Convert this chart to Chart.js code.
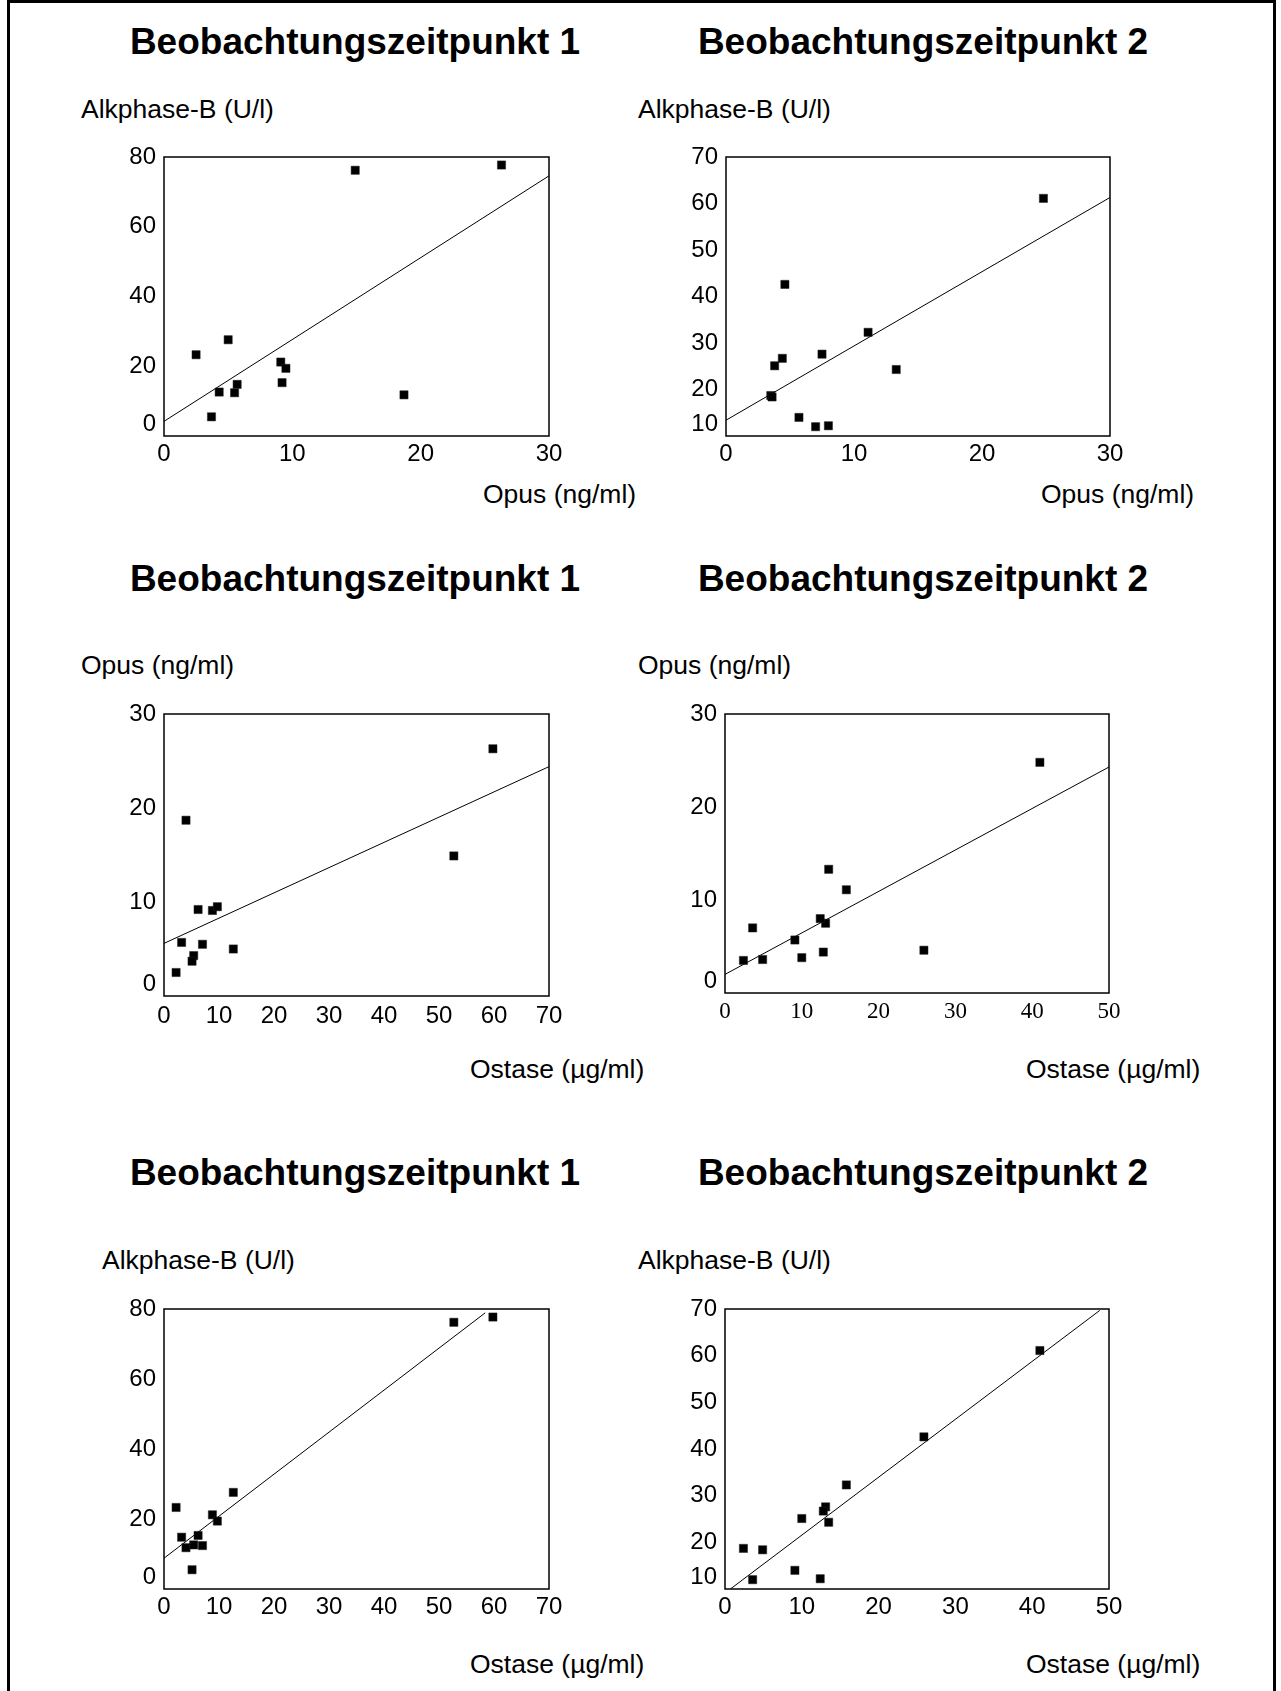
<!DOCTYPE html>
<html>
<head>
<meta charset="utf-8">
<script src="https://cdn.jsdelivr.net/npm/chart.js@4.4.0/dist/chart.umd.min.js"></script>
<style>
  body { margin: 0; background: #fff; font-family: "Liberation Sans", Arial, sans-serif; }
  #page { position: relative; width: 1281px; height: 1691px; overflow: hidden; }
  #frame { position: absolute; left: 7px; top: 0; width: 1263px; height: 1720px; border: 3px solid #000; }
  .t { position: absolute; line-height: 1; white-space: nowrap; color: #000; }
  .title { font-weight: bold; font-size: 37px; transform: translateX(-50%); }
  .lab { font-size: 26.5px; }
  canvas { position: absolute; }
</style>
</head>
<body>
<div id="page">
  <div id="frame"></div>

  <div class="t title" style="left:355px; top:23px;">Beobachtungszeitpunkt 1</div>
  <div class="t title" style="left:923px; top:23px;">Beobachtungszeitpunkt 2</div>
  <div class="t lab" style="left:81px; top:96px;">Alkphase-B (U/l)</div>
  <div class="t lab" style="left:638px; top:96px;">Alkphase-B (U/l)</div>
  <div class="t lab" style="left:483px; top:481px;">Opus (ng/ml)</div>
  <div class="t lab" style="left:1041px; top:481px;">Opus (ng/ml)</div>

  <div class="t title" style="left:355px; top:560px;">Beobachtungszeitpunkt 1</div>
  <div class="t title" style="left:923px; top:560px;">Beobachtungszeitpunkt 2</div>
  <div class="t lab" style="left:81px; top:652px;">Opus (ng/ml)</div>
  <div class="t lab" style="left:638px; top:652px;">Opus (ng/ml)</div>
  <div class="t lab" style="left:470px; top:1056px;">Ostase (µg/ml)</div>
  <div class="t lab" style="left:1026px; top:1056px;">Ostase (µg/ml)</div>

  <div class="t title" style="left:355px; top:1154px;">Beobachtungszeitpunkt 1</div>
  <div class="t title" style="left:923px; top:1154px;">Beobachtungszeitpunkt 2</div>
  <div class="t lab" style="left:102px; top:1247px;">Alkphase-B (U/l)</div>
  <div class="t lab" style="left:638px; top:1247px;">Alkphase-B (U/l)</div>
  <div class="t lab" style="left:470px; top:1651px;">Ostase (µg/ml)</div>
  <div class="t lab" style="left:1026px; top:1651px;">Ostase (µg/ml)</div>

  <canvas id="c1"></canvas>
  <canvas id="c2"></canvas>
  <canvas id="c3"></canvas>
  <canvas id="c4"></canvas>
  <canvas id="c5"></canvas>
  <canvas id="c6"></canvas>
</div>

<script>
// Beobachtungszeitpunkt 1, one entry per patient
const opus1   = [26.3, 14.9, 18.7, 2.5, 5.0, 9.1, 9.5, 9.2, 5.7, 4.3, 5.5, 3.7];
const alk1    = [77.7, 76.2, 11.8, 23.3, 27.6, 21.2, 19.4, 15.3, 14.8, 12.6, 12.4, 5.5];
const ostase1 = [59.8, 52.7, 4.0, 2.2, 12.6, 8.8, 9.7, 6.2, 3.2, 5.4, 7.0, 5.1];

// Beobachtungszeitpunkt 2
const opus2   = [24.8, 4.6, 11.1, 7.5, 4.4, 3.8, 13.3, 3.5, 3.6, 5.7, 7.0, 8.0];
const alk2    = [61.1, 42.6, 32.3, 27.6, 26.7, 25.1, 24.3, 18.7, 18.4, 14.0, 12.0, 12.2];
const ostase2 = [41.0, 25.9, 15.8, 13.1, 12.8, 10.0, 13.5, 2.4, 4.9, 9.1, 3.6, 12.4];

// regression lines, end points
const fit1X = [0, 30],   fit1Y = [4.2, 74.6];
const fit2X = [0, 30],   fit2Y = [13.4, 61.3];
const fit3X = [0, 70],   fit3Y = [5.6, 24.4];
const fit4X = [0, 50],   fit4Y = [2.0, 24.3];
const fit5X = [0, 58.4], fit5Y = [8.8, 78.9];
const fit6X = [0.7, 48.8], fit6Y = [10, 69.7];

// axis ranges: min, max, step
const opusRange = [0, 30, 10];
const alk1Range = [0, 80, 20];
const alk2Range = [10, 70, 10];
const ost1Range = [0, 70, 10];
const ost2Range = [0, 50, 10];

const pad = { l: 80, t: 20, r: 24, b: 44 };
const sans = { family: '"Liberation Sans", Arial, sans-serif', size: 24, lineHeight: 1.0 };
const serif = { family: '"Liberation Serif", "Times New Roman", serif', size: 23, lineHeight: 1.0 };

const boxPlugin = {
  id: 'box',
  afterDatasetsDraw(chart) {
    const a = chart.chartArea, ctx = chart.ctx;
    ctx.save();
    ctx.strokeStyle = '#000';
    ctx.lineWidth = 1.5;
    ctx.strokeRect(a.left, a.top, a.right - a.left, a.bottom - a.top);
    ctx.restore();
  }
};

function scatter(id, box, xs, ys, fx, fy, xr, yr, xFont, xPad) {
  const cv = document.getElementById(id);
  cv.width = box[2] - box[0] + pad.l + pad.r;
  cv.height = box[3] - box[1] + pad.t + pad.b;
  cv.style.left = (box[0] - pad.l) + 'px';
  cv.style.top = (box[1] - pad.t) + 'px';

  return new Chart(cv, {
    type: 'scatter',
    data: {
      datasets: [
        { data: xs.map((x, i) => ({ x: x, y: ys[i] })), pointStyle: 'rect', pointRadius: 5.8,
          backgroundColor: '#000', borderColor: '#222', borderWidth: 0.5 },
        { data: fx.map((x, i) => ({ x: x, y: fy[i] })), showLine: true, pointRadius: 0,
          borderColor: '#000', borderWidth: 1 }
      ]
    },
    options: {
      responsive: false,
      animation: false,
      layout: { padding: { left: 0, top: pad.t, right: pad.r, bottom: 0 } },
      plugins: { legend: { display: false }, tooltip: { enabled: false } },
      scales: {
        x: {
          type: 'linear', min: xr[0], max: xr[1],
          grid: { display: false, drawTicks: false }, border: { display: false },
          ticks: { stepSize: xr[2], padding: xPad || 6, color: '#000', font: xFont || sans,
                   maxRotation: 0, autoSkip: false },
          afterFit: s => { s.height = pad.b; }
        },
        y: {
          type: 'linear', min: yr[0], max: yr[1],
          grid: { display: false, drawTicks: false }, border: { display: false },
          ticks: {
            stepSize: yr[2], padding: 8, color: '#000', font: sans, autoSkip: false,
            // lowest label sits a little above the corner, as in the original
            callback: v => v === yr[0] ? [String(v), ''] : String(v)
          },
          afterFit: s => { s.width = pad.l; }
        }
      }
    },
    plugins: [boxPlugin]
  });
}

scatter('c1', [164, 157, 549, 436], opus1, alk1, fit1X, fit1Y, opusRange, alk1Range);
scatter('c2', [726, 157, 1110, 436], opus2, alk2, fit2X, fit2Y, opusRange, alk2Range);
scatter('c3', [164, 714, 549, 996], ostase1, opus1, fit3X, fit3Y, ost1Range, opusRange, null, 8);
scatter('c4', [725, 714, 1109, 993], ostase2, opus2, fit4X, fit4Y, ost2Range, opusRange, serif, 7);
scatter('c5', [164, 1309, 549, 1589], ostase1, alk1, fit5X, fit5Y, ost1Range, alk1Range);
scatter('c6', [725, 1309, 1109, 1589], ostase2, alk2, fit6X, fit6Y, ost2Range, alk2Range);
</script>
</body>
</html>
